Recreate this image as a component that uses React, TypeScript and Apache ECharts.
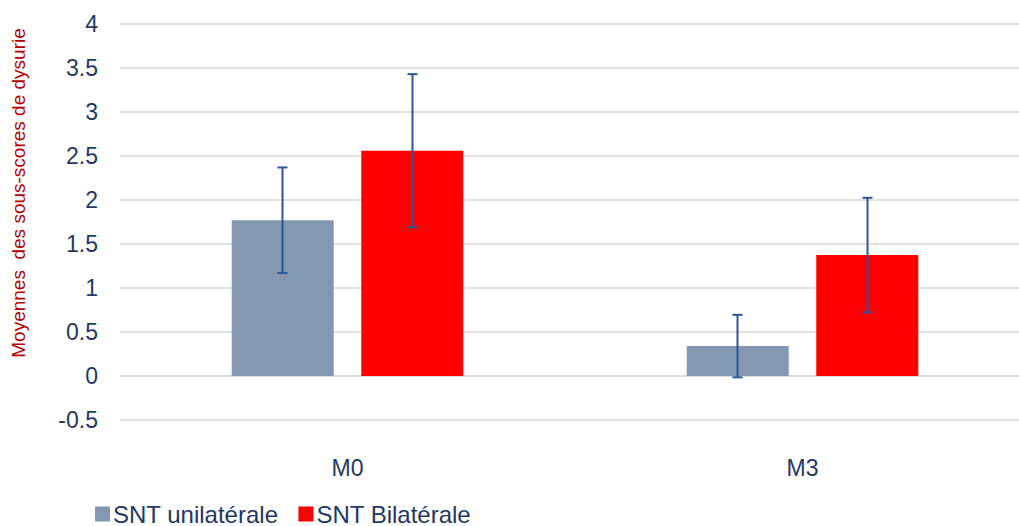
import React, { useEffect, useRef } from "react";
import * as echarts from "echarts";

const categories = ["M0", "M3"];
const seriesNames = ["SNT unilatérale", "SNT Bilatérale"];
const uniMeans = [1.77, 0.34];
const uniSD = [0.6, 0.355];
const bilMeans = [2.56, 1.375];
const bilSD = [0.87, 0.65];
const yTicks = { min: -0.5, max: 4, interval: 0.5 };
const yAxisTitle = "Moyennes  des sous-scores de dysurie";

const BAR_W = 102;
const OFFSET = 65;

function errorSeries(means: number[], sds: number[], offset: number) {
  return {
    type: "custom",
    silent: true,
    z: 10,
    data: means.map((m, i) => [i, m - sds[i], m + sds[i]]),
    renderItem: (params: any, api: any) => {
      const idx = api.value(0);
      const lo = api.coord([idx, api.value(1)]);
      const hi = api.coord([idx, api.value(2)]);
      const x = lo[0] + offset;
      const cap = 5;
      const style = { stroke: "#2F5597", lineWidth: 2 };
      return {
        type: "group",
        children: [
          { type: "line", shape: { x1: x, y1: lo[1], x2: x, y2: hi[1] }, style },
          { type: "line", shape: { x1: x - cap, y1: lo[1], x2: x + cap, y2: lo[1] }, style },
          { type: "line", shape: { x1: x - cap, y1: hi[1], x2: x + cap, y2: hi[1] }, style },
        ],
      };
    },
  };
}

export default function App() {
  const ref = useRef<HTMLDivElement>(null);
  useEffect(() => {
    document.body.style.margin = "0";
    const chart = echarts.init(ref.current!, null, { renderer: "svg" });
    const font = "'Liberation Sans', Arial, sans-serif";
    chart.setOption({
      animation: false,
      textStyle: { fontFamily: font },
      grid: { left: 120, top: 24, width: 910, height: 396, outerBoundsMode: "none", containLabel: false },
      legend: {
        data: seriesNames,
        left: 95,
        top: 502,
        padding: 0,
        itemWidth: 15,
        itemHeight: 15,
        itemGap: 20,
        icon: "rect",
        textStyle: {
          fontSize: 24,
          lineHeight: 24,
          color: "#1F3864",
          fontFamily: font,
          padding: [0, 0, 0, -2],
        },
      },
      graphic: [
        {
          type: "text",
          x: 9,
          y: 193,
          rotation: Math.PI / 2,
          style: {
            text: yAxisTitle,
            fontSize: 19,
            fill: "#B00000",
            fontFamily: font,
            align: "center",
            verticalAlign: "top",
          },
        },
      ],
      xAxis: {
        type: "category",
        data: categories,
        axisLine: { show: true, lineStyle: { color: "#D9D9D9", width: 1.5 } },
        axisTick: { show: false },
        axisLabel: { fontSize: 23, color: "#1F3864", margin: 36, fontFamily: font },
      },
      yAxis: {
        type: "value",
        min: yTicks.min,
        max: yTicks.max,
        interval: yTicks.interval,
        axisLine: { show: false },
        axisTick: { show: false },
        axisLabel: { fontSize: 23, color: "#1F3864", margin: 22, fontFamily: font },
        splitLine: { lineStyle: { color: "#D9D9D9", width: 1.5 } },
      },
      series: [
        {
          name: seriesNames[0],
          type: "bar",
          data: uniMeans,
          barWidth: BAR_W,
          barGap: "27%",
          itemStyle: { color: "#8497B0" },
        },
        {
          name: seriesNames[1],
          type: "bar",
          data: bilMeans,
          barWidth: BAR_W,
          itemStyle: { color: "#FF0000" },
        },
        errorSeries(uniMeans, uniSD, -OFFSET),
        errorSeries(bilMeans, bilSD, OFFSET),
      ],
    });
    return () => chart.dispose();
  }, []);
  return <div ref={ref} style={{ width: 1019, height: 526 }} />;
}
